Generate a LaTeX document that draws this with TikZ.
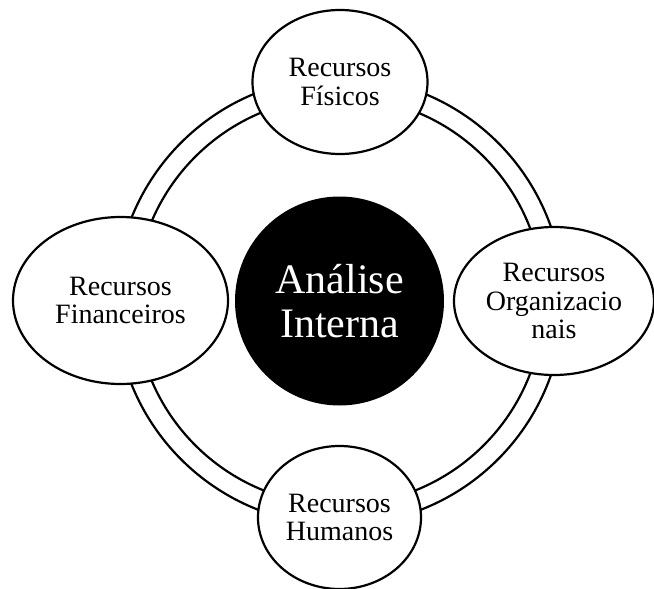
\documentclass[tikz,border=0pt]{standalone}
\usepackage{fontspec}
\setmainfont{Liberation Serif}
\usetikzlibrary{shapes.geometric}

\tikzset{
  ring/.style={draw=black, line width=2.2pt},
  resource/.style={ellipse, draw=black, fill=white, line width=2.2pt,
    inner sep=0pt, outer sep=0pt, align=center,
    font=\fontsize{28}{28.7}\selectfont},
  core/.style={circle, draw=black, fill=black, text=white, line width=2pt,
    inner sep=0pt, outer sep=0pt, align=center,
    minimum size=207pt, font=\fontsize{42}{44.5}\selectfont}
}

\begin{document}
\begin{tikzpicture}[x=1pt, y=-1pt]
  \useasboundingbox (0,0) rectangle (654,589);

  % double ring linking the four resources
  \coordinate (o) at (339.5,301);
  \draw[ring] (o) circle[radius=224pt];
  \draw[ring] (o) circle[radius=204pt];

  % the four resources
  \node[resource, minimum width=175pt, minimum height=144pt] (fis) at (340,82)
    {Recursos\\Físicos};
  \node[resource, minimum width=200pt, minimum height=148pt] (org) at (554,301)
    {Recursos\\Organizacio\\nais};
  \node[resource, minimum width=215pt, minimum height=167pt] (fin) at (120.5,300.5)
    {Recursos\\Financeiros};
  \node[resource, minimum width=163pt, minimum height=143pt] (hum) at (339.5,517.5)
    {Recursos\\Humanos};

  % centre
  \node[core] (ai) at (o) {Análise\\Interna};
\end{tikzpicture}
\end{document}
